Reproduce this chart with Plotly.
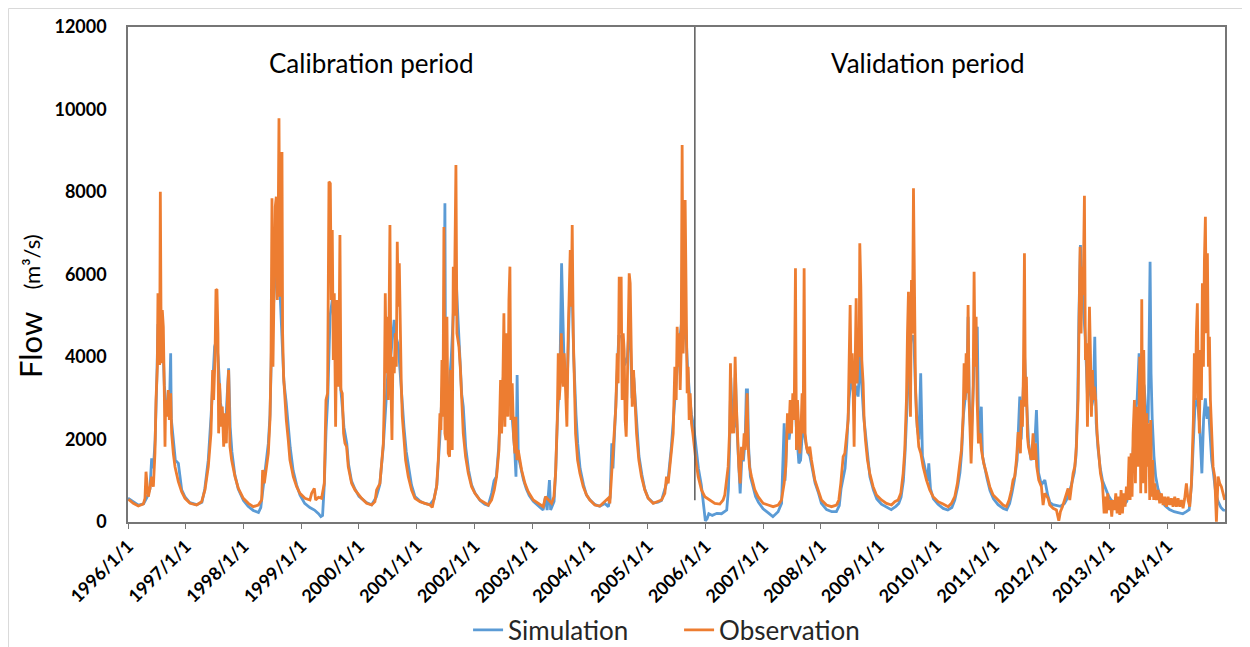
import pandas as pd
import plotly.graph_objects as go

# ---------------- data ----------------
# time as decimal year, flow in m3/s
obs_t = [
1996.006,1996.092,1996.179,1996.265,1996.294,1996.312,1996.329,1996.352,1996.381,1996.410,1996.439,1996.467,1996.485,1996.508,1996.519,1996.537,1996.548,1996.560,1996.571,1996.583,1996.594,1996.612,1996.629,1996.641,1996.652,1996.675,1996.698,1996.716,1996.739,1996.756,1996.785,1996.814,1996.872,1996.929,1996.987,
1997.074,1997.189,1997.276,1997.333,1997.362,1997.391,1997.437,1997.466,1997.483,1997.506,1997.524,1997.541,1997.558,1997.570,1997.587,1997.610,1997.633,1997.657,1997.680,1997.703,1997.726,1997.743,1997.766,1997.795,1997.853,1997.911,1997.997,
1998.084,1998.170,1998.257,1998.315,1998.332,1998.361,1998.401,1998.430,1998.459,1998.476,1998.494,1998.511,1998.534,1998.551,1998.569,1998.586,1998.603,1998.615,1998.632,1998.649,1998.667,1998.678,1998.695,1998.719,1998.742,1998.776,1998.805,1998.863,1998.921,1998.978,
1999.065,1999.151,1999.180,1999.227,1999.250,1999.300,1999.353,1999.400,1999.429,1999.457,1999.481,1999.504,1999.521,1999.538,1999.556,1999.573,1999.596,1999.619,1999.648,1999.671,1999.688,1999.711,1999.734,1999.758,1999.786,1999.815,1999.873,1999.931,
2000.046,2000.133,2000.220,2000.277,2000.306,2000.364,2000.393,2000.422,2000.439,2000.456,2000.474,2000.491,2000.508,2000.526,2000.537,2000.554,2000.572,2000.589,2000.612,2000.629,2000.647,2000.664,2000.681,2000.699,2000.716,2000.733,2000.751,2000.780,2000.808,2000.855,2000.912,2000.970,
2001.057,2001.143,2001.230,2001.270,2001.305,2001.345,2001.374,2001.403,2001.420,2001.438,2001.455,2001.472,2001.489,2001.507,2001.524,2001.547,2001.570,2001.588,2001.605,2001.616,2001.634,2001.651,2001.680,2001.697,2001.715,2001.732,2001.755,2001.778,2001.807,2001.847,2001.894,2001.951,
2002.009,2002.096,2002.182,2002.240,2002.298,2002.344,2002.384,2002.425,2002.453,2002.471,2002.488,2002.511,2002.528,2002.546,2002.563,2002.580,2002.598,2002.615,2002.632,2002.655,2002.679,2002.702,2002.719,2002.736,2002.759,2002.788,2002.817,2002.875,2002.932,
2003.019,2003.106,2003.192,2003.233,2003.279,2003.337,2003.377,2003.406,2003.435,2003.452,2003.469,2003.487,2003.504,2003.521,2003.539,2003.556,2003.579,2003.602,2003.625,2003.642,2003.660,2003.677,2003.694,2003.712,2003.729,2003.752,2003.787,2003.827,2003.885,2003.943,
2004.000,2004.086,2004.173,2004.259,2004.317,2004.346,2004.363,2004.392,2004.421,2004.450,2004.473,2004.490,2004.508,2004.525,2004.542,2004.559,2004.577,2004.594,2004.611,2004.629,2004.646,2004.663,2004.681,2004.698,2004.715,2004.733,2004.756,2004.779,2004.808,2004.848,2004.894,2004.952,
2005.010,2005.096,2005.183,2005.241,2005.298,2005.327,2005.356,2005.385,2005.414,2005.443,2005.471,2005.495,2005.512,2005.529,2005.547,2005.564,2005.581,2005.598,2005.616,2005.633,2005.650,2005.668,2005.685,2005.702,2005.720,2005.737,2005.760,2005.783,2005.806,2005.835,2005.876,2005.933,2005.991,
2006.078,2006.164,2006.251,2006.308,2006.337,2006.366,2006.395,2006.418,2006.435,2006.453,2006.470,2006.493,2006.516,2006.534,2006.557,2006.580,2006.603,2006.626,2006.649,2006.672,2006.689,2006.707,2006.724,2006.741,2006.764,2006.799,2006.857,2006.914,
2007.001,2007.088,2007.174,2007.261,2007.319,2007.365,2007.394,2007.422,2007.446,2007.469,2007.492,2007.515,2007.538,2007.561,2007.578,2007.596,2007.613,2007.636,2007.653,2007.676,2007.694,2007.711,2007.728,2007.751,2007.780,2007.809,2007.838,2007.896,2007.953,
2008.011,2008.098,2008.185,2008.271,2008.312,2008.346,2008.387,2008.416,2008.444,2008.473,2008.491,2008.508,2008.525,2008.543,2008.560,2008.577,2008.594,2008.612,2008.629,2008.646,2008.664,2008.675,2008.693,2008.710,2008.733,2008.750,2008.773,2008.808,2008.848,2008.906,2008.964,
2009.050,2009.137,2009.224,2009.281,2009.339,2009.385,2009.426,2009.454,2009.483,2009.501,2009.518,2009.535,2009.553,2009.570,2009.587,2009.605,2009.622,2009.639,2009.657,2009.674,2009.697,2009.732,2009.772,2009.830,2009.887,2009.945,
2010.032,2010.118,2010.205,2010.263,2010.320,2010.366,2010.407,2010.436,2010.465,2010.482,2010.499,2010.517,2010.534,2010.551,2010.568,2010.586,2010.603,2010.620,2010.638,2010.655,2010.672,2010.690,2010.707,2010.730,2010.759,2010.782,2010.822,2010.869,2010.926,2010.984,
2011.071,2011.157,2011.215,2011.261,2011.302,2011.330,2011.359,2011.388,2011.417,2011.440,2011.457,2011.475,2011.492,2011.509,2011.527,2011.544,2011.561,2011.579,2011.596,2011.619,2011.648,2011.677,2011.694,2011.717,2011.740,2011.775,2011.821,2011.850,2011.879,2011.936,2011.966,
2012.023,2012.081,2012.122,2012.150,2012.185,2012.225,2012.254,2012.283,2012.312,2012.341,2012.370,2012.399,2012.427,2012.456,2012.474,2012.491,2012.508,2012.526,2012.543,2012.566,2012.583,2012.601,2012.618,2012.635,2012.653,2012.670,2012.687,2012.705,2012.722,2012.739,2012.762,2012.785,2012.814,2012.843,2012.878,2012.907,2012.924,2012.947,2012.970,2012.993,
2013.016,2013.039,2013.062,2013.085,2013.109,2013.132,2013.155,2013.178,2013.201,2013.224,2013.247,2013.270,2013.293,2013.316,2013.339,2013.357,2013.374,2013.391,2013.409,2013.432,2013.449,2013.466,2013.489,2013.507,2013.524,2013.541,2013.559,2013.576,2013.593,2013.611,2013.628,2013.645,2013.662,2013.680,2013.697,2013.714,2013.732,2013.749,2013.766,2013.784,2013.813,2013.842,2013.870,2013.899,2013.928,2013.957,2013.986,
2014.015,2014.044,2014.072,2014.101,2014.130,2014.159,2014.188,2014.217,2014.246,2014.274,2014.303,2014.332,2014.361,2014.390,2014.419,2014.436,2014.453,2014.470,2014.488,2014.505,2014.522,2014.540,2014.557,2014.575,2014.592,2014.609,2014.627,2014.644,2014.661,2014.679,2014.696,2014.713,2014.731,2014.748,2014.765,2014.794,2014.823,2014.852,2014.881,2014.909,2014.938,2014.967,2014.996,
]
obs_v = [
550,452,388,436,574,1220,937,614,816,1100,856,1665,2957,3765,5543,5300,3806,8007,5220,3846,5139,4735,3119,1826,2957,2553,3200,2472,3119,2149,1665,1341,978,735,574,
452,412,493,776,1100,1341,2149,3684,2957,3927,5640,5624,4573,2149,3361,2311,2796,1826,2634,1907,3200,3684,1826,1503,1100,816,574,
452,372,412,533,1260,937,1341,1665,2472,3765,7846,3765,6028,7644,7886,5381,7500,9786,5462,8937,8937,4573,3523,2957,2472,1988,1503,1100,856,695,
574,533,695,816,533,600,574,937,2957,3119,8250,8209,5381,7078,3927,5543,2311,5381,3280,6957,3200,3119,2149,1907,1826,1341,937,776,
574,452,412,493,776,937,1503,1907,2957,5543,3604,4977,2957,5866,7199,3361,1988,4007,3604,4573,3765,6795,5220,6271,3927,3361,2553,1988,1503,1100,776,574,
493,452,412,355,614,856,1503,2634,2230,3927,2553,7150,2149,1988,4977,1665,1584,3684,3604,1746,6190,5000,8653,4573,4412,4250,3765,2957,2149,1584,1180,856,
695,533,452,412,533,776,1100,1746,3442,2149,2957,5058,2311,4573,2957,2553,5381,6190,2472,3361,2069,1665,2553,1503,1746,1503,1260,937,735,
533,452,372,614,533,452,614,1180,2472,4088,2957,3361,4573,3684,3280,4088,2957,2311,4573,5381,6593,5220,7199,4573,3361,2149,1503,1180,856,655,
533,412,388,493,574,452,937,1503,2149,2796,4088,3361,5947,4573,5947,2957,4573,4169,2472,2069,3119,4573,6028,5785,3765,2796,3684,2957,2149,1503,1100,776,
574,452,493,533,695,1100,937,1341,1746,2149,3765,2957,4735,3765,4573,3200,4169,9139,4088,4977,7806,5705,3119,3765,2472,3119,2392,2149,1826,1503,1100,776,614,
533,452,436,533,655,937,1341,2149,3846,2149,2553,2149,4007,2957,2069,1341,937,1826,1503,2149,1746,2796,3119,1826,1341,1100,776,614,
452,412,372,412,533,937,1341,2634,2149,2957,2149,3119,2472,6150,1746,2957,2149,1665,2069,3119,2149,6150,2149,1826,1665,1826,1503,1018,776,
533,412,372,412,533,937,1584,1665,2149,2472,3927,5260,3361,4088,3200,1826,3765,5421,3361,4088,4007,6755,5705,3927,3361,2472,1988,1503,1180,856,655,
533,452,412,493,533,695,1180,1746,2957,4573,5583,3765,2553,5866,4573,8088,4573,3361,2553,2149,1826,1665,1341,1018,776,614,
493,436,372,452,614,937,1341,1746,2553,3846,2957,4088,3119,5260,2957,2149,1422,2149,3280,6069,3765,4977,2957,1907,2149,1746,1422,1180,856,655,
533,412,372,533,776,1018,1100,1503,2149,2149,1665,2957,2311,3604,6513,2796,3523,2069,1826,1665,1503,2149,1503,1907,1341,1018,856,412,695,574,412,
331,291,32,250,372,533,695,816,533,937,1180,1341,1826,2957,4573,6674,4573,6190,5500,7911,3927,4331,2311,3765,5220,4088,2553,3684,2957,3280,2957,2149,1665,1180,937,210,614,210,695,291,
533,129,533,291,695,210,614,170,776,210,695,372,856,533,1584,533,1665,614,2149,2957,937,2796,1341,2149,4007,695,5397,937,4169,1746,695,2634,1341,2392,533,2472,614,1503,533,937,533,776,452,695,412,614,372,
614,412,574,372,614,372,574,372,533,331,574,937,533,372,937,1826,2472,4088,2957,4573,5300,2957,2149,4169,2957,5785,3765,6351,7401,4573,6513,3765,4492,2957,2149,1341,1100,8,1100,937,856,695,533,
]

sim_t = [
1996.000,1996.100,1996.180,1996.270,1996.330,1996.380,1996.410,1996.440,1996.470,1996.500,1996.520,1996.550,1996.580,1996.610,1996.630,1996.660,1996.700,1996.720,1996.739,1996.750,1996.790,1996.820,1996.872,1996.930,1996.990,
1997.070,1997.190,1997.280,1997.330,1997.390,1997.440,1997.470,1997.500,1997.530,1997.560,1997.600,1997.650,1997.700,1997.743,1997.770,1997.800,1997.850,1997.910,
1998.000,1998.080,1998.170,1998.260,1998.300,1998.330,1998.360,1998.400,1998.430,1998.460,1998.490,1998.530,1998.570,1998.600,1998.620,1998.650,1998.680,1998.700,1998.740,1998.776,1998.810,1998.860,1998.920,1998.980,
1999.060,1999.150,1999.230,1999.300,1999.340,1999.370,1999.400,1999.430,1999.460,1999.500,1999.550,1999.600,1999.650,1999.700,1999.740,1999.790,1999.820,1999.870,1999.930,
2000.000,2000.130,2000.220,2000.300,2000.360,2000.420,2000.450,2000.500,2000.550,2000.610,2000.640,2000.680,2000.720,2000.750,2000.780,2000.820,2000.860,2000.910,2000.970,
2001.060,2001.140,2001.230,2001.300,2001.350,2001.400,2001.440,2001.470,2001.489,2001.500,2001.550,2001.600,2001.650,2001.680,2001.720,2001.755,2001.780,2001.807,2001.850,2001.900,2001.950,
2002.010,2002.100,2002.180,2002.240,2002.300,2002.340,2002.380,2002.420,2002.450,2002.500,2002.550,2002.600,2002.650,2002.700,2002.720,2002.740,2002.760,2002.800,2002.850,2002.900,2002.950,
2003.020,2003.100,2003.190,2003.230,2003.260,2003.300,2003.320,2003.380,2003.410,2003.440,2003.480,2003.510,2003.550,2003.600,2003.650,2003.690,2003.720,2003.760,2003.790,2003.830,2003.890,2003.940,
2004.000,2004.090,2004.170,2004.260,2004.320,2004.350,2004.380,2004.400,2004.430,2004.470,2004.500,2004.550,2004.600,2004.650,2004.690,2004.730,2004.760,2004.790,2004.820,2004.850,2004.900,2004.950,
2005.010,2005.100,2005.180,2005.240,2005.300,2005.360,2005.410,2005.450,2005.500,2005.550,2005.600,2005.650,2005.690,2005.730,2005.760,2005.800,2005.840,2005.880,2005.930,2005.970,
2006.000,2006.030,2006.060,2006.120,2006.200,2006.280,2006.330,2006.370,2006.400,2006.420,2006.440,2006.470,2006.500,2006.520,2006.550,2006.580,2006.603,2006.630,2006.660,2006.690,2006.710,2006.730,2006.750,2006.780,2006.820,2006.870,2006.920,
2007.000,2007.090,2007.170,2007.260,2007.320,2007.365,2007.380,2007.420,2007.450,2007.500,2007.550,2007.580,2007.620,2007.650,2007.690,2007.730,2007.770,2007.810,2007.850,2007.900,2007.960,
2008.010,2008.100,2008.190,2008.270,2008.320,2008.350,2008.390,2008.420,2008.450,2008.490,2008.530,2008.580,2008.620,2008.646,2008.680,2008.710,2008.740,2008.773,2008.810,2008.850,2008.910,2008.970,
2009.050,2009.140,2009.220,2009.300,2009.350,2009.390,2009.430,2009.460,2009.500,2009.530,2009.570,2009.610,2009.640,2009.670,2009.700,2009.730,2009.760,2009.800,2009.850,2009.870,2009.900,2009.950,
2010.030,2010.120,2010.200,2010.270,2010.320,2010.370,2010.410,2010.440,2010.470,2010.500,2010.530,2010.551,2010.570,2010.600,2010.630,2010.660,2010.690,2010.710,2010.730,2010.760,2010.780,2010.800,2010.840,2010.880,2010.930,2010.990,
2011.070,2011.160,2011.220,2011.270,2011.310,2011.350,2011.400,2011.446,2011.470,2011.500,2011.530,2011.560,2011.600,2011.640,2011.680,2011.710,2011.735,2011.770,2011.820,2011.880,2011.930,2011.970,
2012.020,2012.080,2012.150,2012.220,2012.280,2012.340,2012.390,2012.420,2012.450,2012.470,2012.497,2012.510,2012.550,2012.580,2012.620,2012.650,2012.690,2012.720,2012.745,2012.770,2012.800,2012.840,2012.880,2012.930,2012.980,
2013.030,2013.100,2013.170,2013.240,2013.300,2013.350,2013.400,2013.440,2013.480,2013.513,2013.530,2013.560,2013.600,2013.640,2013.670,2013.703,2013.720,2013.740,2013.770,2013.800,2013.840,2013.900,2013.960,
2014.040,2014.120,2014.200,2014.270,2014.330,2014.380,2014.420,2014.450,2014.480,2014.520,2014.560,2014.600,2014.630,2014.660,2014.690,2014.713,2014.740,2014.770,2014.800,2014.840,2014.880,2014.930,2014.970,2015.000,
]
sim_v = [
580,480,410,440,600,800,1543,1300,2000,3500,4800,4600,4200,4100,3300,2800,2600,2900,4088,2500,1900,1500,1422,780,600,
470,420,480,800,1500,2600,3300,4250,4400,4000,2900,2500,2600,3725,2300,1700,1150,800,
520,380,280,230,350,700,1100,1500,1900,2600,4500,5500,6500,7000,6000,5000,4000,3400,2900,2311,1800,1250,900,650,
450,350,290,200,130,160,900,2200,3000,5000,5500,4500,3800,3000,2300,1900,1400,1000,800,
620,470,420,600,900,1800,2600,3600,4000,4900,4500,4300,3500,2800,2300,1700,1341,900,620,
500,450,420,550,900,2000,3200,4000,7725,3500,3000,4000,5500,6000,4800,3604,3100,2796,1800,1250,900,
700,520,430,400,700,1000,1100,1800,2600,3500,3800,4000,2600,1700,1100,3563,1600,1300,1020,800,640,
500,400,290,610,290,1018,290,500,1300,2600,3500,6271,4000,3000,5500,5800,4000,2600,1900,1300,900,660,
540,420,380,450,372,600,1907,1300,2100,3500,4500,4500,3800,4000,5000,3000,3500,2900,2300,1600,1150,800,
580,460,480,520,800,1100,1800,2600,3500,4330,5000,5000,3800,3000,2600,2300,1800,1300,900,450,
30,80,200,160,210,200,250,290,800,1800,3500,2400,2300,3600,2200,1400,695,1500,1500,2000,3200,3200,1800,1100,900,620,480,
320,220,130,250,450,2392,1000,2300,2000,2600,3000,2200,1422,1500,2400,2000,1700,1600,1300,950,700,
450,300,250,250,400,800,1100,1300,1900,3000,3500,3000,3300,3038,4000,3300,2600,2150,1600,1100,780,560,
430,350,300,380,450,600,1000,1700,3000,4000,4500,4500,3200,2300,2000,3604,1600,1300,1000,1422,800,560,
430,330,290,350,530,850,1200,1700,2600,3000,3300,4977,3000,2000,2800,4000,4200,4735,2500,2000,2796,1600,1300,1050,760,560,
420,330,300,450,700,1000,1500,3040,2000,3000,4000,3000,1900,1500,1800,2000,2715,1200,900,1018,650,470,
420,400,380,450,600,900,1200,1600,3000,5000,6715,6000,5000,4500,3000,3500,2800,3000,4492,2400,1800,1300,1000,800,640,
530,460,420,400,500,900,1500,2500,3000,4088,3200,3500,3300,2500,2400,6310,3600,2500,1600,1100,800,550,400,
300,250,230,200,250,300,900,1800,2800,3000,2400,1180,2500,3000,2500,2796,2000,1500,1200,700,500,350,291,280,
]

year_tick_dates = ["1996-01-01", "1997-01-01", "1998-01-01", "1999-01-01", "2000-01-01",
                   "2001-01-01", "2002-01-01", "2003-01-01", "2004-01-01", "2005-01-01",
                   "2006-01-01", "2007-01-01", "2008-01-01", "2009-01-01", "2010-01-01",
                   "2011-01-01", "2012-01-01", "2013-01-01", "2014-01-01"]
year_tick_labels = ["1996/1/1", "1997/1/1", "1998/1/1", "1999/1/1", "2000/1/1",
                    "2001/1/1", "2002/1/1", "2003/1/1", "2004/1/1", "2005/1/1",
                    "2006/1/1", "2007/1/1", "2008/1/1", "2009/1/1", "2010/1/1",
                    "2011/1/1", "2012/1/1", "2013/1/1", "2014/1/1"]
y_ticks = [0, 2000, 4000, 6000, 8000, 10000, 12000]
y_tick_labels = ["0", "2000", "4000", "6000", "8000", "10000", "12000"]
divider_t = 2005.818          # boundary between the two periods (decimal year)
divider_low = 530             # flow value where the divider line stops
period_names = ["Calibration period", "Validation period"]
series_names = ["Simulation", "Observation"]

# ---------------- helpers ----------------
BASE = pd.Timestamp("1996-01-01")


def to_dates(ts):
    return [BASE + pd.to_timedelta((t - 1996.0) * 365.25, unit="D") for t in ts]


SIM_COLOR = "#5B9BD5"
OBS_COLOR = "#ED7D31"
FONT = "Lato"

fig = go.Figure()
fig.add_trace(go.Scatter(x=to_dates(sim_t), y=sim_v, mode="lines", name=series_names[0],
                         line=dict(color=SIM_COLOR, width=2.8)))
fig.add_trace(go.Scatter(x=to_dates(obs_t), y=obs_v, mode="lines", name=series_names[1],
                         line=dict(color=OBS_COLOR, width=2.8)))

div_date = to_dates([divider_t])[0]
fig.add_shape(type="line", xref="x", yref="y", x0=div_date, x1=div_date,
              y0=divider_low, y1=y_ticks[-1], line=dict(color="#595959", width=1.5))

# light grey outer frame (chart area border)
fig.add_shape(type="line", xref="paper", yref="paper", x0=-0.1089, x1=1.1, y0=1.0374, y1=1.0374,
              line=dict(color="#d9d9d9", width=1))
fig.add_shape(type="line", xref="paper", yref="paper", x0=-0.1089, x1=-0.1089, y0=-0.5, y1=1.0374,
              line=dict(color="#d9d9d9", width=1))

fig.add_annotation(text=period_names[0], xref="paper", yref="paper", x=0.2215, y=0.927,
                   xanchor="center", yanchor="middle",
                   showarrow=False, font=dict(family=FONT, size=26, color="#000000"))
fig.add_annotation(text=period_names[1], xref="paper", yref="paper", x=0.7293, y=0.927,
                   xanchor="center", yanchor="middle",
                   showarrow=False, font=dict(family=FONT, size=26, color="#000000"))

# y axis title (two parts, different sizes)
fig.add_annotation(text="Flow", xref="paper", yref="paper", x=-0.0893, y=0.3576,
                   xanchor="center", yanchor="middle",
                   textangle=-90, showarrow=False, font=dict(family=FONT, size=31, color="#000000"))
fig.add_annotation(text="(m³/s)", xref="paper", yref="paper", x=-0.0880, y=0.525,
                   xanchor="center", yanchor="middle",
                   textangle=-90, showarrow=False, font=dict(family=FONT, size=22, color="#000000"))

fig.update_layout(
    width=1242, height=639,
    margin=dict(l=120, r=25, t=19, b=125, autoexpand=False),
    paper_bgcolor="white", plot_bgcolor="white",
    font=dict(family=FONT, color="#000000"),
    showlegend=True,
    legend=dict(orientation="h", x=0.31, xanchor="left", y=-0.218, yanchor="middle",
                font=dict(family=FONT, size=26, color="#262626"), itemwidth=30,
                entrywidth=166, entrywidthmode="pixels",
                bgcolor="rgba(0,0,0,0)"),
    xaxis=dict(type="date", range=["1996-01-01", "2015-01-01"],
               tickvals=year_tick_dates, ticktext=year_tick_labels, tickangle=-45,
               tickfont=dict(family=FONT, size=18, color="#000000", weight="bold"),
               ticks="outside", ticklen=5, tickcolor="#767676",
               showline=True, linecolor="#767676", linewidth=1.5, mirror=True,
               showgrid=False, zeroline=False, automargin=False),
    yaxis=dict(range=[0, 12000], tickvals=y_ticks, ticktext=y_tick_labels,
               tickfont=dict(family=FONT, size=18, color="#000000", weight="bold"),
               ticks="outside", ticklen=16, tickcolor="rgba(0,0,0,0)",
               showline=True, linecolor="#767676", linewidth=1.5, mirror=True,
               showgrid=False, zeroline=False, automargin=False),
)

fig.write_html("out.html")
